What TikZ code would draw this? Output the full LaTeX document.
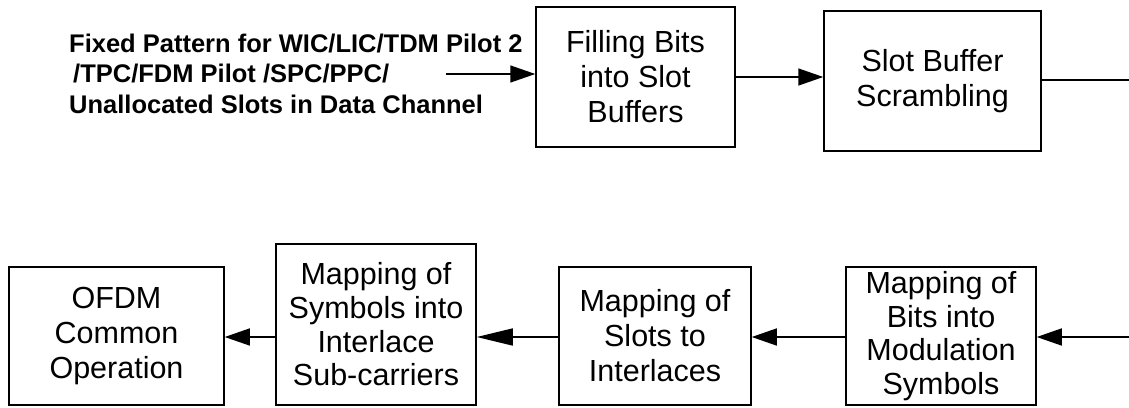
\documentclass[tikz,border=0pt]{standalone}
\usepackage{fontspec}
\setmainfont{Liberation Sans}
\usetikzlibrary{arrows.meta}
\begin{document}
\begin{tikzpicture}[x=1pt,y=-1pt,
  blk/.style={draw,line width=1.5pt,inner sep=0pt,align=center,
    font=\fontsize{30.5}{35}\selectfont},
  blkfour/.style={blk,font=\fontsize{30.5}{33.7}\selectfont},
  srctext/.style={anchor=base west,inner sep=0pt,font=\fontsize{25.5}{30.5}\selectfont\bfseries},
  conn/.style={line width=1.5pt},
  arr/.style={conn,-{Triangle[length=25pt,width=17pt]}},
  arrbig/.style={conn,-{Triangle[length=36pt,width=17pt]}}]
\useasboundingbox (0,0) rectangle (1129,407);
% top row
\node[blk,minimum width=199pt,minimum height=140pt] (fill) at (635.5,77) {Filling Bits\\into Slot\\Buffers};
\node[blk,minimum width=217pt,minimum height=140pt] (scr) at (932.5,81) {Slot Buffer\\Scrambling};
% bottom row
\node[blk,minimum width=215pt,minimum height=138pt] (ofdm) at (116.5,336) {OFDM\\Common\\Operation};
\node[blkfour,minimum width=200pt,minimum height=161pt] (sym) at (376,324.5) {Mapping of\\Symbols into\\Interlace\\Sub-carriers};
\node[blk,minimum width=192pt,minimum height=138pt] (slots) at (655,336) {Mapping of\\Slots to\\Interlaces};
\node[blkfour,minimum width=190pt,minimum height=138pt] (bits) at (941,336) {Mapping of\\Bits into\\Modulation\\Symbols};
% source text
\node[srctext] (src1) at (69,52) {Fixed Pattern for WIC/LIC/TDM Pilot 2};
\node[srctext] (src2) at (73,82.5) {/TPC/FDM Pilot /SPC/PPC/};
\node[srctext] (src3) at (69,113) {Unallocated Slots in Data Channel};
% connectors
\coordinate (in) at (446,74);
\coordinate (out1) at (1129,80);
\coordinate (in2) at (1129,337);
\draw[arr] (in) -- (in -| fill.west);
\draw[arr] (fill.east) -- (fill.east -| scr.west);
\draw[conn] (scr.east |- out1) -- (out1);
\draw[arr] (in2) -- (in2 -| bits.east);
\draw[arr] (bits.west |- in2) -- (in2 -| slots.east);
\draw[arrbig] (slots.west |- in2) -- (in2 -| sym.east);
\draw[arr] (sym.west |- in2) -- (in2 -| ofdm.east);
\end{tikzpicture}
\end{document}
